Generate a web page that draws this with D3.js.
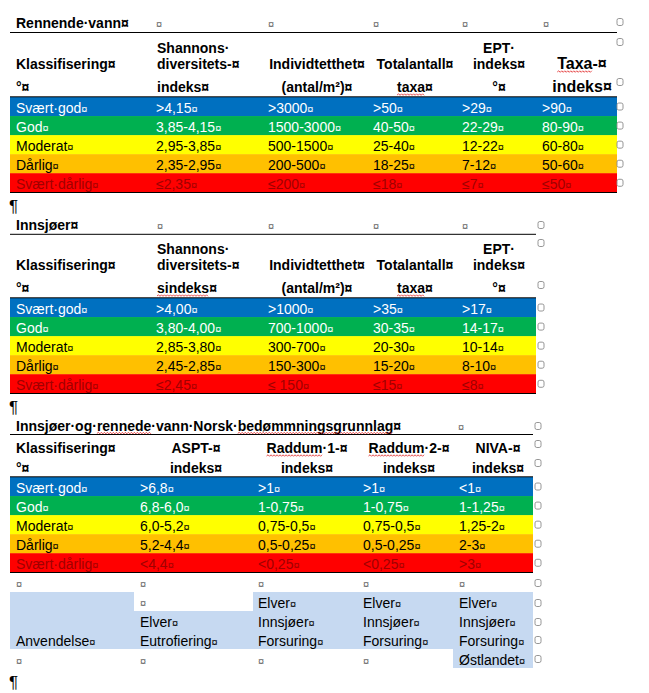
<!DOCTYPE html>
<html><head><meta charset="utf-8">
<script src="https://cdn.jsdelivr.net/npm/d3@7"></script>
<style>body{margin:0;background:#fff}svg{display:block}</style>
</head><body>
<svg id="c" width="649" height="693"></svg>
<script>
// ---------- DATA ----------
const classes = ["Svært·god","God","Moderat","Dårlig","Svært·dårlig"];
const classFill = ["#0070c0","#00b050","#ffff00","#ffc000","#ff0000"];
const classText = ["#ffffff","#ffffff","#000000","#000000","#a00000"];

// Tabell 1: Rennende vann
const rvTitle = "Rennende·vann";
const rvHead1 = [["Klassifisering"],["Shannons·","diversitets-"],["Individtetthet"],["Totalantall"],["EPT·","indeks"],["Taxa-"]];
const rvHead2 = ["°","indeks","(antal/m²)","taxa","°","indeks"];
const rvShannon = [">4,15","3,85-4,15","2,95-3,85","2,35-2,95","≤2,35"];
const rvIndivid = [">3000","1500-3000","500-1500","200-500","≤200"];
const rvTaxa = [">50","40-50","25-40","18-25","≤18"];
const rvEPT = [">29","22-29","12-22","7-12","≤7"];
const rvTaxaIndeks = [">90","80-90","60-80","50-60","≤50"];

// Tabell 2: Innsjøer
const inTitle = "Innsjøer";
const inHead1 = [["Klassifisering"],["Shannons·","diversitets-"],["Individtetthet"],["Totalantall"],["EPT·","indeks"]];
const inHead2 = ["°","sindeks","(antal/m²)","taxa","°"];
const inShannon = [">4,00","3,80-4,00","2,85-3,80","2,45-2,85","≤2,45"];
const inIndivid = [">1000","700-1000","300-700","150-300","≤ 150"];
const inTaxa = [">35","30-35","20-30","15-20","≤15"];
const inEPT = [">17","14-17","10-14","8-10","≤8"];

// Tabell 3: Norsk bedømmningsgrunnlag
const nbTitle = "Innsjøer·og·rennede·vann·Norsk·bedømmningsgrunnlag";
const nbHead1 = ["Klassifisering","ASPT-","Raddum·1-","Raddum·2-","NIVA-"];
const nbHead2 = ["°","indeks","indeks","indeks","indeks"];
const nbASPT = [">6,8","6,8-6,0","6,0-5,2","5,2-4,4","<4,4"];
const nbRaddum1 = [">1","1-0,75","0,75-0,5","0,5-0,25","<0,25"];
const nbRaddum2 = [">1","1-0,75","0,75-0,5","0,5-0,25","<0,25"];
const nbNIVA = ["<1","1-1,25","1,25-2","2-3",">3"];
const useLabel = "Anvendelse";
const useASPT = ["Elver","Eutrofiering"];
const useRaddum1 = ["Elver","Innsjøer","Forsuring"];
const useRaddum2 = ["Elver","Innsjøer","Forsuring"];
const useNIVA = ["Elver","Innsjøer","Forsuring","Østlandet"];

// ---------- DRAWING ----------
const FONT = "'Liberation Sans', Arial, sans-serif";
const svg = d3.select("#c");
const g = svg.append("g");

function txt(x, y, s, o = {}) {
  const size = o.size || 14;
  const t = g.append("text").attr("x", x).attr("y", y)
    .attr("font-family", FONT).attr("font-size", size)
    .attr("font-weight", o.bold ? "bold" : "normal")
    .attr("fill", o.color || "#000")
    .attr("text-anchor", o.anchor || "start");
  t.append("tspan").text(s);
  if (o.mark) t.append("tspan").attr("font-size", o.bold ? size : 11).text("¤");
  const n = t.node();
  (o.wavy || []).forEach(([st, cnt]) => {
    const x1 = n.getStartPositionOfChar(st).x;
    const x2 = n.getEndPositionOfChar(st + cnt - 1).x;
    wavy(x1, x2, y + 3);
  });
  return t;
}
function wavy(x1, x2, y) {
  const p = d3.path();
  p.moveTo(x1, y);
  let up = true;
  for (let x = x1 + 1.5; x <= x2; x += 1.5) { p.lineTo(x, up ? y - 1.2 : y + 0.3); up = !up; }
  g.append("path").attr("d", p.toString()).attr("fill", "none").attr("stroke", "#e02020").attr("stroke-width", 0.8);
}
function grayMark(x, y) {
  g.append("text").attr("x", x).attr("y", y).attr("font-family", FONT).attr("font-size", 11)
    .attr("fill", "#666").text("¤");
}
function rowEnd(x, yc) {
  g.append("rect").attr("x", x).attr("y", yc - 3.5).attr("width", 6).attr("height", 7)
    .attr("rx", 1.8).attr("fill", "none").attr("stroke", "#8a8a8a").attr("stroke-width", 0.9);
}
function hline(x1, x2, y) {
  g.append("line").attr("x1", x1).attr("x2", x2).attr("y1", y).attr("y2", y)
    .attr("stroke", "#000").attr("stroke-width", 1);
}
function pilcrow(y) {
  g.append("text").attr("x", 9).attr("y", y).attr("font-family", FONT).attr("font-size", 17).text("¶");
}
function colorRows(y, x0, x1, colX, cols) {
  y.domain().forEach((c, i) => {
    g.append("rect").attr("x", x0).attr("y", y(c)).attr("width", x1 - x0)
      .attr("height", y.bandwidth() + 0.5).attr("fill", classFill[i]);
  });
  y.domain().forEach((c, i) => {
    const base = y(c) + 16;
    cols.forEach((vals, k) => {
      txt(colX[k], base, vals[i], { color: classText[i], mark: true });
    });
  });
}

// ===== Table 1 =====
{
  const right = 617, colX = [16, 156, 268, 373, 462, 542];
  const y = d3.scaleBand().domain(classes).range([97, 192.3]);
  txt(16, 28, rvTitle, { bold: true, mark: true });
  [156, 268, 373, 462, 543].forEach(x => grayMark(x, 28));
  hline(10, right, 32.5);
  const h = [
    { x: 16, a: "start" }, { x: 157, a: "start" }, { x: 317, a: "middle" },
    { x: 415, a: "middle" }, { x: 499, a: "middle" }, { x: 582, a: "middle", s: 16 }];
  rvHead1.forEach((lines, k) => {
    lines.forEach((l, j) => {
      const by = 69 - (lines.length - 1 - j) * 16;
      const last = j === lines.length - 1;
      txt(h[k].x, by, l, { bold: true, mark: last, anchor: h[k].a, size: h[k].s, wavy: k === 5 ? [[0, 4]] : null });
    });
  });
  rvHead2.forEach((l, k) => {
    txt(h[k].x, 92, l, { bold: true, mark: true, anchor: h[k].a, size: h[k].s, wavy: k === 3 ? [[0, 4]] : null });
  });
  colorRows(y, 10, right, colX, [classes, rvShannon, rvIndivid, rvTaxa, rvEPT, rvTaxaIndeks]);
  hline(10, right, 96.8);
  hline(10, right, 192.5);
  [22, 42, 82].forEach(v => rowEnd(617, v));
  classes.forEach(c => rowEnd(617, y(c) + y.bandwidth() / 2));
  pilcrow(212);
}

// ===== Table 2 =====
{
  const o = 201, right = 536, colX = [16, 156, 268, 373, 462];
  const y = d3.scaleBand().domain(classes).range([298, 393.3]);
  txt(16, 229.5, inTitle, { bold: true, mark: true });
  [157, 268, 373, 462].forEach(x => grayMark(x, 229.5));
  hline(10, right, 234.3);
  const h = [
    { x: 16, a: "start" }, { x: 157, a: "start" }, { x: 317, a: "middle" },
    { x: 415, a: "middle" }, { x: 499, a: "middle" }];
  inHead1.forEach((lines, k) => {
    lines.forEach((l, j) => {
      const by = 69 + o - (lines.length - 1 - j) * 16;
      txt(h[k].x, by, l, { bold: true, mark: j === lines.length - 1, anchor: h[k].a });
    });
  });
  inHead2.forEach((l, k) => {
    txt(h[k].x, 92 + o, l, { bold: true, mark: true, anchor: h[k].a,
      wavy: k === 3 ? [[0, 4]] : (k === 1 ? [[0, 7]] : null) });
  });
  colorRows(y, 10, right, colX, [classes, inShannon, inIndivid, inTaxa, inEPT]);
  hline(10, right, 297.8);
  hline(10, right, 393.5);
  [225, 243, 285].forEach(v => rowEnd(538, v));
  classes.forEach(c => rowEnd(538, y(c) + y.bandwidth() / 2));
  pilcrow(413);
}

// ===== Table 3 =====
{
  const right = 533, colX = [16, 140, 258, 363, 459];
  const y = d3.scaleBand().domain(classes).range([477, 572.3]);
  const i1 = nbTitle.indexOf("rennede"), i2 = nbTitle.indexOf("bedømmningsgrunnlag");
  txt(16, 430.5, nbTitle, { bold: true, mark: true, wavy: [[i1, 7], [i2, 19]] });
  grayMark(458, 430.5);
  hline(10, right, 434.5);
  const h = [
    { x: 16, a: "start" }, { x: 196, a: "middle" }, { x: 307, a: "middle" },
    { x: 409, a: "middle" }, { x: 498, a: "middle" }];
  nbHead1.forEach((l, k) => {
    txt(h[k].x, 453, l, { bold: true, mark: true, anchor: h[k].a, wavy: (k === 2 || k === 3) ? [[0, 6]] : null });
  });
  nbHead2.forEach((l, k) => {
    txt(h[k].x, 473, l, { bold: true, mark: true, anchor: h[k].a });
  });
  colorRows(y, 10, right, colX, [classes, nbASPT, nbRaddum1, nbRaddum2, nbNIVA]);
  hline(10, right, 476.8);
  hline(10, right, 572.5);

  // Anvendelse block
  const u = d3.scaleBand().domain([0, 1, 2, 3]).range([592, 668]);
  const LB = "#c6d9f1";
  const bw = u.bandwidth();
  g.append("rect").attr("x", 10).attr("y", u(0)).attr("width", 124).attr("height", bw * 3).attr("fill", LB);
  g.append("rect").attr("x", 134).attr("y", u(1)).attr("width", 119).attr("height", bw * 2).attr("fill", LB);
  g.append("rect").attr("x", 253).attr("y", u(0)).attr("width", 200).attr("height", bw * 3).attr("fill", LB);
  g.append("rect").attr("x", 453).attr("y", u(0)).attr("width", 80).attr("height", bw * 4).attr("fill", LB);

  colX.forEach(x => grayMark(x, 588));
  grayMark(140, 607);
  txt(16, u(2) + 16, useLabel, { mark: true });
  useASPT.forEach((s, i) => txt(140, u(i + 1) + 16, s, { mark: true }));
  useRaddum1.forEach((s, i) => txt(258, u(i) + 16, s, { mark: true }));
  useRaddum2.forEach((s, i) => txt(363, u(i) + 16, s, { mark: true }));
  useNIVA.forEach((s, i) => txt(459, u(i) + 16, s, { mark: true }));
  [16, 140, 258, 363].forEach(x => grayMark(x, 665));

  [426, 444, 463].forEach(v => rowEnd(535, v));
  classes.forEach(c => rowEnd(535, y(c) + y.bandwidth() / 2));
  [583, 603, 622, 640, 659].forEach(v => rowEnd(535, v));
  pilcrow(688);
}
</script>
</body></html>
